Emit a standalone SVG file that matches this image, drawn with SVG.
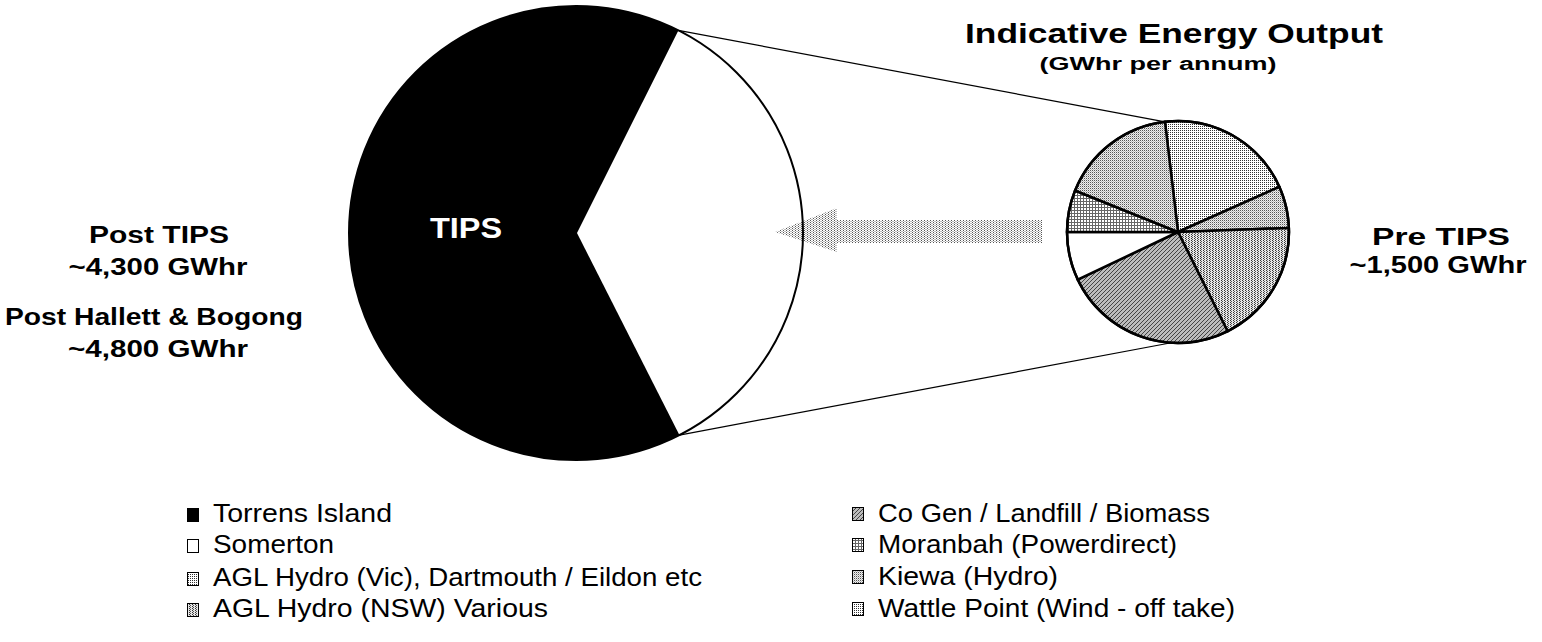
<svg xmlns="http://www.w3.org/2000/svg" width="1542" height="642" viewBox="0 0 1542 642">
<defs>
<pattern id="dotA" patternUnits="userSpaceOnUse" width="2" height="2"><rect x="0" y="0" width="1" height="1" fill="#333"/></pattern>
<pattern id="dotB" patternUnits="userSpaceOnUse" width="2" height="2"><rect width="2" height="2" fill="#eee"/><rect x="0" y="0" width="1" height="1" fill="#555"/><rect x="1" y="1" width="1" height="1" fill="#bbb"/></pattern>
<pattern id="dotC" patternUnits="userSpaceOnUse" width="3" height="2"><rect width="3" height="2" fill="#e6e6e6"/><rect x="0" y="0" width="1" height="1" fill="#333"/><rect x="1" y="1" width="1" height="1" fill="#555"/></pattern>
<pattern id="grid" patternUnits="userSpaceOnUse" width="3" height="3"><rect width="3" height="3" fill="#fff"/><rect x="0" y="0" width="3" height="1" fill="#666"/><rect x="0" y="0" width="1" height="3" fill="#666"/></pattern>
<pattern id="hatch" patternUnits="userSpaceOnUse" width="4" height="4"><rect width="4" height="4" fill="#bcbcbc"/><path d="M0 4 L4 0 M-1 1 L1 -1 M3 5 L5 3" stroke="#444" stroke-width="1"/></pattern>
<pattern id="arrowDots" patternUnits="userSpaceOnUse" width="3" height="2"><rect x="0" y="0" width="1" height="1" fill="#555"/><rect x="1.5" y="1" width="1" height="1" fill="#777"/></pattern>
</defs>
<style>
text{font-family:"Liberation Sans",Arial,sans-serif;fill:#000}
.b{font-weight:bold}
.lg{font-size:26px}
.slice{stroke:#000;stroke-width:2.5;stroke-linejoin:round}
.sq{stroke:#000;stroke-width:1}
.zoomline{stroke:#000;stroke-width:1.2;fill:none}
</style>
<rect width="1542" height="642" fill="#fff"/>

<g id="big-pie">
<circle cx="576" cy="233" r="227" fill="#000"/>
<path d="M577 233 L678.4 30.4 A227 227 0 0 1 679.4 435.1 Z" fill="#fff"/>
</g>

<g id="arrow">
<polygon points="775,232 837,208 837,220 1042,220 1042,243 837,243 837,252" fill="url(#arrowDots)"/>
</g>

<g id="big-pie-outline">
<circle cx="576" cy="233" r="227" fill="none" stroke="#000" stroke-width="2"/>
<text class="b" x="430" y="238" font-size="30" textLength="72" lengthAdjust="spacingAndGlyphs" style="fill:#fff">TIPS</text>
</g>

<g id="connectors">
<line class="zoomline" x1="678.4" y1="30.4" x2="1165" y2="121.8"/>
<line class="zoomline" x1="679.4" y1="435.1" x2="1170" y2="343"/>
</g>

<g id="small-pie">
<path class="slice" d="M1178 232 L1165 121.8 A111 111 0 0 1 1279.4 186.8 Z" fill="url(#dotA)"/>
<path class="slice" d="M1178 232 L1279.4 186.8 A111 111 0 0 1 1288.9 228 Z" fill="url(#dotB)"/>
<path class="slice" d="M1178 232 L1288.9 228 A111 111 0 0 1 1227.6 331.3 Z" fill="url(#dotC)"/>
<path class="slice" d="M1178 232 L1227.6 331.3 A111 111 0 0 1 1077.7 279.6 Z" fill="url(#hatch)"/>
<path class="slice" d="M1178 232 L1077.7 279.6 A111 111 0 0 1 1067 232 Z" fill="#fff"/>
<path class="slice" d="M1178 232 L1067 232 A111 111 0 0 1 1075.1 190.5 Z" fill="url(#grid)"/>
<path class="slice" d="M1178 232 L1075.1 190.5 A111 111 0 0 1 1165 121.8 Z" fill="url(#dotB)"/>
<circle cx="1178" cy="232" r="111" fill="none" stroke="#000" stroke-width="2.5"/>
</g>

<g id="title">
<text class="b" x="1174" y="43" font-size="28" text-anchor="middle" textLength="418" lengthAdjust="spacingAndGlyphs">Indicative Energy Output</text>
<text class="b" x="1158" y="70" font-size="18" text-anchor="middle" textLength="237" lengthAdjust="spacingAndGlyphs">(GWhr per annum)</text>
</g>

<g id="post-labels">
<text class="b" x="159" y="243" font-size="23" text-anchor="middle" textLength="140" lengthAdjust="spacingAndGlyphs">Post TIPS</text>
<text class="b" x="158" y="275" font-size="23" text-anchor="middle" textLength="179" lengthAdjust="spacingAndGlyphs">~4,300 GWhr</text>
<text class="b" x="154" y="325" font-size="23" text-anchor="middle" textLength="298" lengthAdjust="spacingAndGlyphs">Post Hallett &amp; Bogong</text>
<text class="b" x="158" y="357" font-size="23" text-anchor="middle" textLength="180" lengthAdjust="spacingAndGlyphs">~4,800 GWhr</text>
</g>

<g id="pre-labels">
<text class="b" x="1441" y="245" font-size="23" text-anchor="middle" textLength="138" lengthAdjust="spacingAndGlyphs">Pre TIPS</text>
<text class="b" x="1438" y="273" font-size="23" text-anchor="middle" textLength="177" lengthAdjust="spacingAndGlyphs">~1,500 GWhr</text>
</g>

<g id="legend">
<rect class="sq" x="187.5" y="508.5" width="11" height="13" fill="#000"/>
<text class="lg" x="213" y="522" textLength="179" lengthAdjust="spacingAndGlyphs">Torrens Island</text>
<rect class="sq" x="187.5" y="539.5" width="11" height="13" fill="#fff"/>
<text class="lg" x="213" y="553" textLength="121" lengthAdjust="spacingAndGlyphs">Somerton</text>
<rect class="sq" x="187.5" y="572.5" width="11" height="13" fill="url(#dotA)"/>
<text class="lg" x="213" y="586" textLength="489" lengthAdjust="spacingAndGlyphs">AGL Hydro (Vic), Dartmouth / Eildon etc</text>
<rect class="sq" x="187.5" y="603.5" width="11" height="13" fill="url(#dotC)"/>
<text class="lg" x="213" y="617" textLength="335" lengthAdjust="spacingAndGlyphs">AGL Hydro (NSW) Various</text>

<rect class="sq" x="852.5" y="507.5" width="11" height="13" fill="url(#hatch)"/>
<text class="lg" x="878" y="522" textLength="332" lengthAdjust="spacingAndGlyphs">Co Gen / Landfill / Biomass</text>
<rect class="sq" x="852.5" y="538.5" width="11" height="13" fill="url(#grid)"/>
<text class="lg" x="878" y="553" textLength="299" lengthAdjust="spacingAndGlyphs">Moranbah (Powerdirect)</text>
<rect class="sq" x="852.5" y="570.5" width="11" height="13" fill="url(#dotB)"/>
<text class="lg" x="878" y="585" textLength="180" lengthAdjust="spacingAndGlyphs">Kiewa (Hydro)</text>
<rect class="sq" x="852.5" y="602.5" width="11" height="13" fill="url(#dotA)"/>
<text class="lg" x="878" y="617" textLength="357" lengthAdjust="spacingAndGlyphs">Wattle Point (Wind - off take)</text>
</g>
</svg>
